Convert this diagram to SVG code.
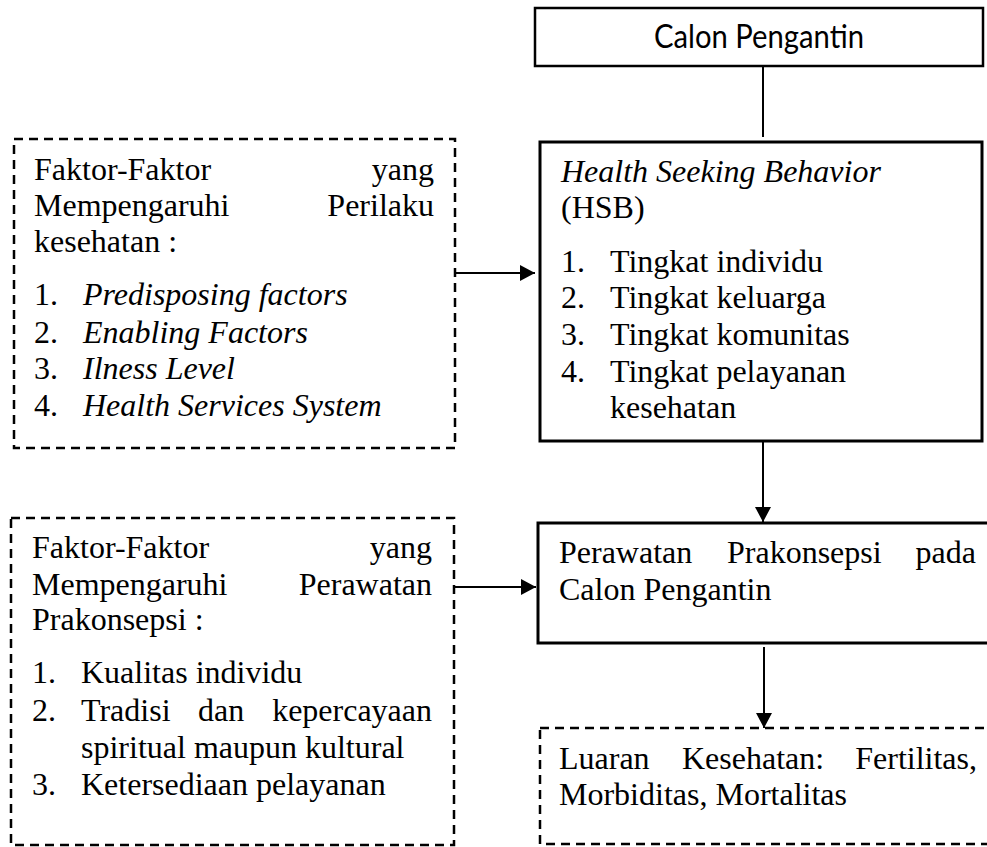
<svg xmlns="http://www.w3.org/2000/svg" width="987" height="847" viewBox="0 0 987 847">
<style>
.t{font-family:"Liberation Serif","Times New Roman",serif;font-size:32px;fill:#000}
.i{font-style:italic}
.e{text-anchor:end}
.sans{font-family:Lato,"Liberation Sans",sans-serif;font-size:32px;fill:#000}
.solid{fill:#fff;stroke:#000;stroke-width:3}
.dash{fill:#fff;stroke:#000;stroke-width:2.5;stroke-dasharray:9 6}
.c{stroke:#000;stroke-width:2;fill:none}
</style>
<defs>
<marker id="ah" markerUnits="userSpaceOnUse" markerWidth="16" markerHeight="17" refX="15" refY="8" orient="auto">
<path d="M0,0 L15,8 L0,16 Z" fill="#000"/>
</marker>
</defs>
<rect width="987" height="847" fill="#fff"/>
<g id="connectors">
<line class="c" x1="763" y1="66" x2="763" y2="137"/>
<line class="c" x1="455" y1="273" x2="535" y2="273" marker-end="url(#ah)"/>
<line class="c" x1="763" y1="442" x2="763" y2="522" marker-end="url(#ah)"/>
<line class="c" x1="455" y1="587" x2="536" y2="587" marker-end="url(#ah)"/>
<line class="c" x1="764" y1="647" x2="764" y2="728" marker-end="url(#ah)"/>
</g>
<g id="calon">
<rect class="solid" x="535" y="8" width="448" height="58" style="stroke-width:2.5"/>
<text class="sans" x="654" y="48" textLength="210" lengthAdjust="spacingAndGlyphs">Calon Pengantin</text>
</g>
<g id="hsb">
<rect class="solid" x="540" y="142" width="442" height="299"/>
<text class="t i" x="561" y="182">Health Seeking Behavior</text>
<text class="t" x="561" y="218">(HSB)</text>
<text class="t" x="561" y="272">1.</text><text class="t" x="610" y="272">Tingkat individu</text>
<text class="t" x="561" y="308">2.</text><text class="t" x="610" y="308">Tingkat keluarga</text>
<text class="t" x="561" y="345">3.</text><text class="t" x="610" y="345">Tingkat komunitas</text>
<text class="t" x="561" y="382">4.</text><text class="t" x="610" y="382">Tingkat pelayanan</text>
<text class="t" x="610" y="418">kesehatan</text>
</g>
<g id="faktor-perilaku">
<rect class="dash" x="14" y="139" width="441" height="309"/>
<text class="t" x="34" y="180">Faktor-Faktor</text><text class="t e" x="434" y="180">yang</text>
<text class="t" x="34" y="216">Mempengaruhi</text><text class="t e" x="434" y="216">Perilaku</text>
<text class="t" x="34" y="252">kesehatan :</text>
<text class="t" x="34" y="305">1.</text><text class="t i" x="83" y="305">Predisposing factors</text>
<text class="t" x="34" y="343">2.</text><text class="t i" x="83" y="343">Enabling Factors</text>
<text class="t" x="34" y="379">3.</text><text class="t i" x="83" y="379">Ilness Level</text>
<text class="t" x="34" y="416">4.</text><text class="t i" x="83" y="416">Health Services System</text>
</g>
<g id="faktor-prakonsepsi">
<rect class="dash" x="11" y="518" width="443" height="327"/>
<text class="t" x="32" y="558">Faktor-Faktor</text><text class="t e" x="432" y="558">yang</text>
<text class="t" x="32" y="595">Mempengaruhi</text><text class="t e" x="432" y="595">Perawatan</text>
<text class="t" x="32" y="630">Prakonsepsi :</text>
<text class="t" x="32" y="683">1.</text><text class="t" x="81" y="683">Kualitas individu</text>
<text class="t" x="32" y="721">2.</text><text class="t" x="81" y="721">Tradisi</text><text class="t" x="198" y="721">dan</text><text class="t e" x="432" y="721">kepercayaan</text>
<text class="t" x="81" y="758">spiritual maupun kultural</text>
<text class="t" x="32" y="795">3.</text><text class="t" x="81" y="795">Ketersediaan pelayanan</text>
</g>
<g id="perawatan">
<rect class="solid" x="538" y="523" width="452" height="120"/>
<text class="t" x="559" y="563">Perawatan</text><text class="t" x="727" y="563">Prakonsepsi</text><text class="t e" x="976" y="563">pada</text>
<text class="t" x="559" y="600">Calon Pengantin</text>
</g>
<g id="luaran">
<rect class="dash" x="540" y="728" width="452" height="116"/>
<text class="t" x="559" y="769">Luaran</text><text class="t" x="682" y="769">Kesehatan:</text><text class="t e" x="977" y="769">Fertilitas,</text>
<text class="t" x="559" y="805">Morbiditas, Mortalitas</text>
</g>
</svg>
